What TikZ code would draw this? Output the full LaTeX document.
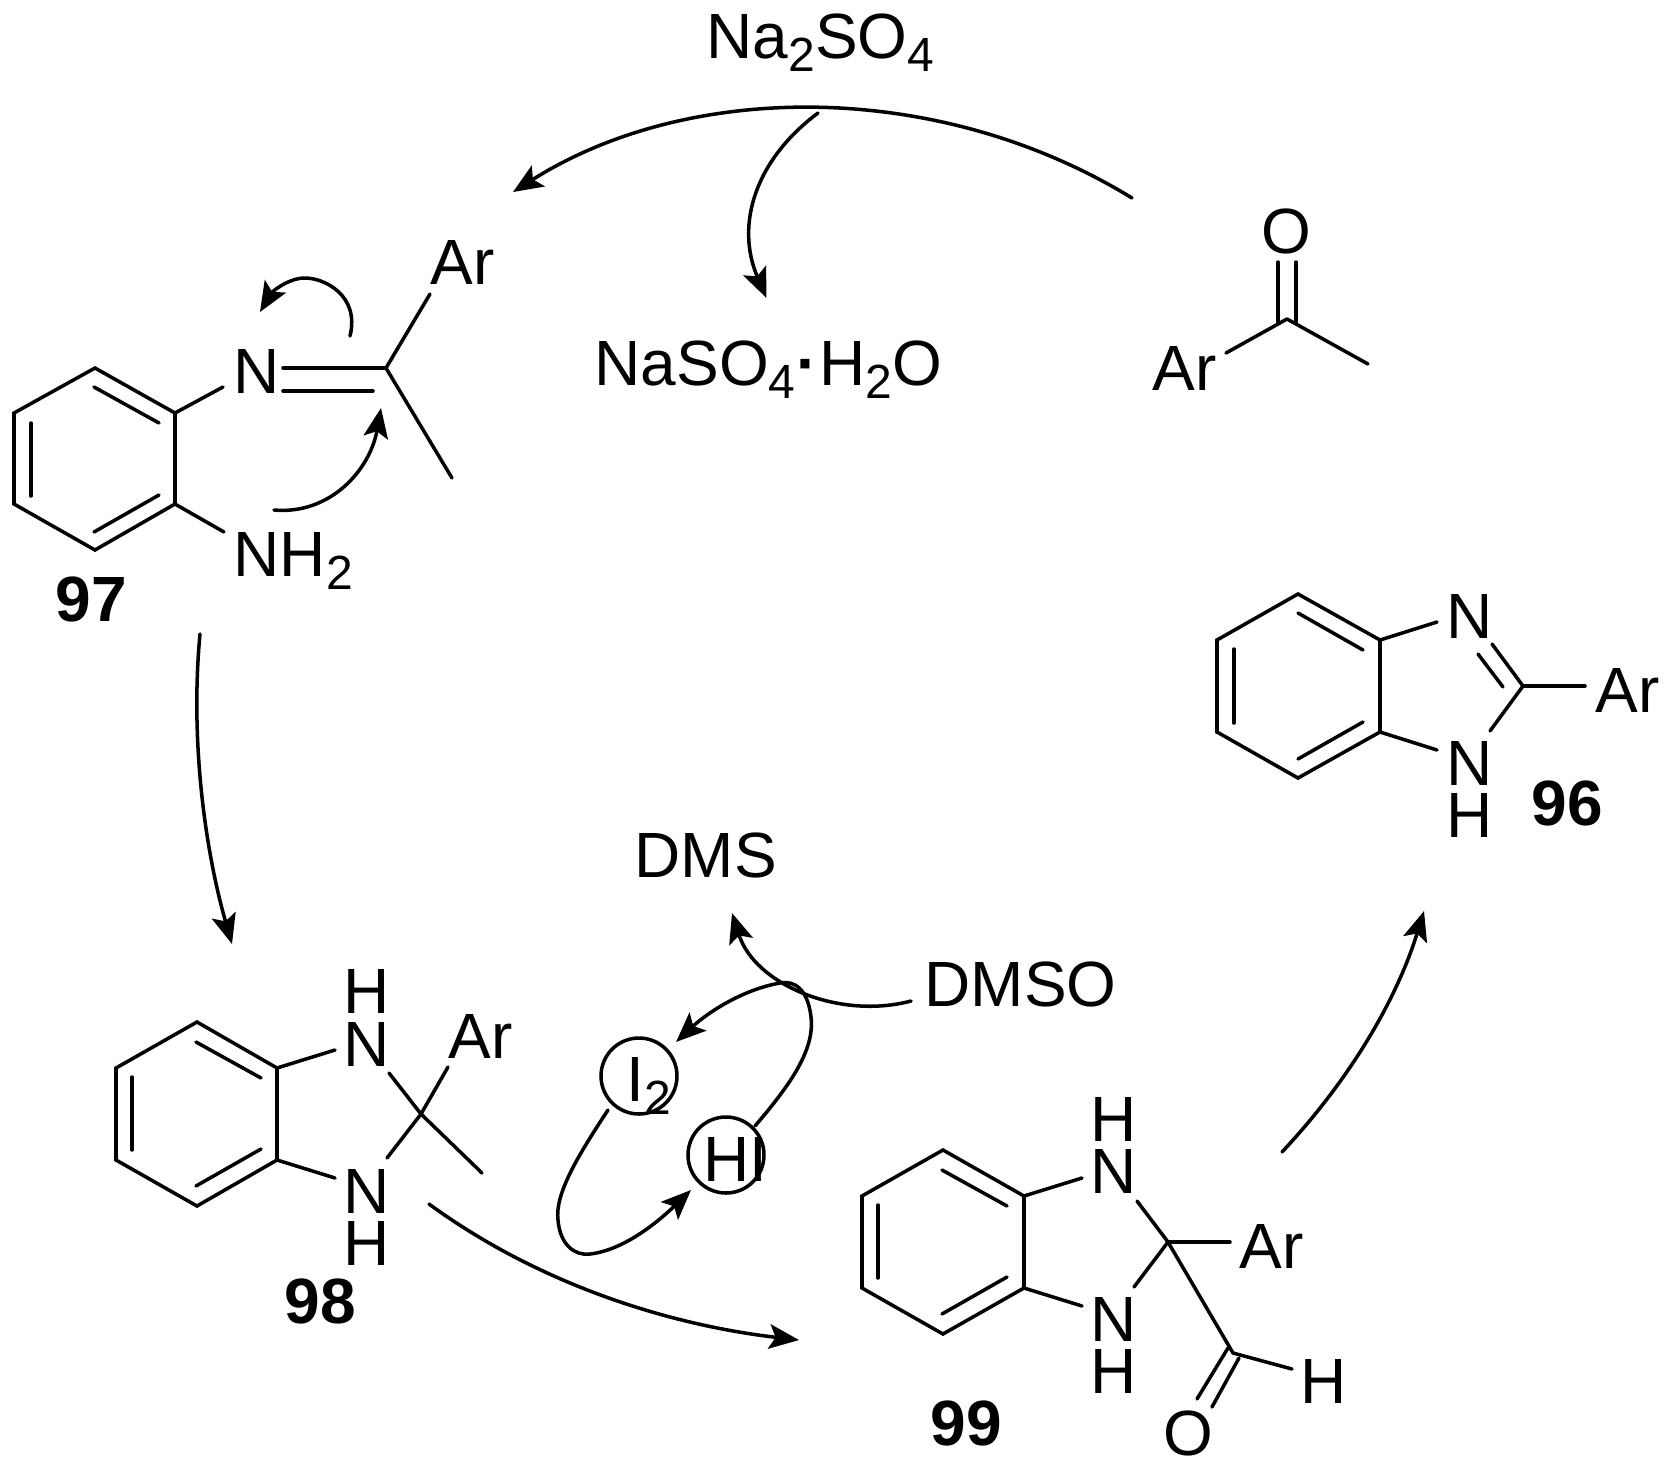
\documentclass[tikz,border=0pt]{standalone}
\usepackage{fontspec}
\setmainfont{Liberation Sans}
\usetikzlibrary{arrows.meta}
\newcommand{\subs}[1]{\raisebox{-0.21em}{\scalebox{0.75}{#1}}}
\tikzset{
	atom/.style={anchor=base west, inner sep=0pt, font=\fontsize{18.2}{20}\selectfont},
	cpd/.style={atom, font=\fontsize{18.2}{20}\selectfont\bfseries},
	loopring/.style={draw, circle, inner sep=0pt, minimum size=0.76cm},
}
\begin{document}
\begin{tikzpicture}[x=1cm, y=-1cm, line width=1pt, line cap=round, line join=miter, >={Stealth[length=8.5pt, width=7pt, inset=1.8pt]}]
	\useasboundingbox (0,0) rectangle (16.7,14.68);
	%97
	\draw (0.14,4.13) -- ++(0.81,-0.45) -- ++(0.80,0.45) -- ++(0,0.91) -- ++(-0.80,0.46) -- ++(-0.81,-0.46) -- cycle;
	\draw (0.94,3.87) -- ++(0.65,0.36);
	\draw (0.31,4.23) -- ++(0,0.73);
	\draw (0.94,5.32) -- ++(0.65,-0.37);
	\draw (1.75,4.13) -- ++(0.48,-0.26);
	\draw (1.75,5.04) -- ++(0.49,0.28);
	\draw (2.83,3.68) -- ++(1.03,0);
	\draw (2.83,3.91) -- ++(0.90,0);
	\coordinate (c97) at (3.86,3.68);
	\draw (c97) -- ++(0.44,-0.74);
	\draw (c97) -- ++(0.66,1.10);
	\node[atom] (n97) at (2.32,3.93) {N};
	\node[atom] (nh97) at (2.32,5.76) {NH\subs{2}};
	\node[atom] (ar97) at (4.29,2.84) {Ar};
	\node[cpd] (l97) at (0.54,6.21) {97};
	%electron shifts
	\coordinate (s1) at (3.50,3.36);
	\coordinate (e1) at (2.60,3.12);
	\draw[->] (s1) .. controls (3.60,2.96) and (3.25,2.78) .. (3.05,2.78) .. controls (2.88,2.78) and (2.72,2.92) .. (e1);
	\coordinate (s2) at (2.74,5.10);
	\coordinate (e2) at (3.81,4.08);
	\draw[->] (s2) .. controls (3.30,5.15) and (3.70,4.70) .. (e2);
	%ketone
	\coordinate (c0) at (12.87,3.19);
	\draw (12.78,2.62) -- ++(0,0.60);
	\draw (12.96,2.62) -- ++(0,0.60);
	\draw (c0) -- (12.26,3.53);
	\draw (c0) -- (13.68,3.64);
	\node[atom] (o0) at (12.60,2.53) {O};
	\node[atom] (ar0) at (11.51,3.90) {Ar};
	%sulfate
	\node[atom] (na2) at (7.05,0.58) {Na\subs{2}SO\subs{4}};
	\node[atom] (nah) at (5.93,3.85) {NaSO\subs{4}\kern0.02em\textbf{·}\kern0.02em H\subs{2}O};
	\coordinate (ak) at (11.32,1.98);
	\coordinate (a97) at (5.13,1.92);
	\coordinate (br) at (8.18,1.13);
	\coordinate (brt) at (7.665,2.98);
	\draw[->] (ak) .. controls (9.40,0.80) and (6.90,0.80) .. (a97);
	\draw[->] (br) .. controls (7.55,1.60) and (7.35,2.25) .. (brt);
	%98
	\coordinate (a97b) at (2.00,6.34);
	\coordinate (a98) at (2.32,9.44);
	\draw[->] (a97b) .. controls (1.90,7.40) and (2.05,8.50) .. (a98);
	\draw (1.16,10.68) -- ++(0.81,-0.46) -- ++(0.80,0.46) -- ++(0,0.92) -- ++(-0.80,0.46) -- ++(-0.81,-0.46) -- cycle;
	\draw (1.96,10.42) -- ++(0.65,0.36);
	\draw (1.32,10.77) -- ++(0,0.73);
	\draw (1.96,11.86) -- ++(0.65,-0.37);
	\draw (2.77,10.68) -- ++(0.58,-0.18);
	\draw (2.77,11.60) -- ++(0.58,0.18);
	\coordinate (c98) at (4.21,11.14);
	\draw (c98) -- ++(-0.32,-0.41);
	\draw (c98) -- ++(-0.34,0.44);
	\draw (c98) -- ++(0.27,-0.47);
	\draw (c98) -- ++(0.61,0.59);
	\node[atom] (h98a) at (3.42,10.13) {H};
	\node[atom] (n98a) at (3.42,10.66) {N};
	\node[atom] (n98b) at (3.42,12.13) {N};
	\node[atom] (h98b) at (3.42,12.65) {H};
	\node[atom] (ar98) at (4.47,10.58) {Ar};
	\node[cpd] (l98) at (2.83,13.23) {98};
	%99
	\coordinate (a98b) at (4.29,12.04);
	\coordinate (a99) at (7.99,13.40);
	\draw[->] (a98b) .. controls (5.40,12.85) and (6.70,13.25) .. (a99);
	\draw (8.62,11.96) -- ++(0.81,-0.46) -- ++(0.81,0.46) -- ++(0,0.92) -- ++(-0.81,0.46) -- ++(-0.81,-0.46) -- cycle;
	\draw (9.42,11.70) -- ++(0.65,0.36);
	\draw (8.78,12.05) -- ++(0,0.73);
	\draw (9.42,13.14) -- ++(0.65,-0.37);
	\draw (10.24,11.96) -- ++(0.58,-0.18);
	\draw (10.24,12.88) -- ++(0.58,0.18);
	\coordinate (c99) at (11.68,12.42);
	\coordinate (cho) at (12.33,13.53);
	\draw (c99) -- ++(-0.31,-0.41);
	\draw (c99) -- ++(-0.34,0.45);
	\draw (c99) -- ++(0.62,0);
	\draw (c99) -- (cho);
	\draw (cho) -- ++(0.59,0.16);
	\draw (12.28,13.48) -- (11.97,13.99);
	\draw (12.39,13.58) -- (12.12,14.07);
	\node[atom] (h99a) at (10.89,11.41) {H};
	\node[atom] (n99a) at (10.89,11.93) {N};
	\node[atom] (n99b) at (10.89,13.41) {N};
	\node[atom] (h99b) at (10.89,13.93) {H};
	\node[atom] (ar99) at (12.38,12.68) {Ar};
	\node[atom] (h99c) at (12.99,14.03) {H};
	\node[atom] (o99) at (11.62,14.55) {O};
	\node[cpd] (l99) at (9.29,14.45) {99};
	%96
	\coordinate (a99b) at (12.82,11.52);
	\coordinate (a96) at (14.24,9.11);
	\draw[->] (a99b) .. controls (13.45,10.85) and (13.95,10.05) .. (a96);
	\draw (12.17,6.40) -- ++(0.81,-0.46) -- ++(0.82,0.46) -- ++(0,0.92) -- ++(-0.82,0.46) -- ++(-0.81,-0.46) -- cycle;
	\draw (12.98,6.13) -- ++(0.65,0.37);
	\draw (12.34,6.49) -- ++(0,0.74);
	\draw (12.98,7.59) -- ++(0.65,-0.37);
	\draw (13.80,6.40) -- ++(0.57,-0.18);
	\draw (13.80,7.32) -- ++(0.57,0.18);
	\coordinate (c96) at (15.23,6.86);
	\draw (c96) -- (14.92,6.44);
	\draw (15.03,6.87) -- (14.78,6.54);
	\draw (c96) -- (14.90,7.31);
	\draw (c96) -- ++(0.62,0);
	\node[atom] (n96a) at (14.45,6.38) {N};
	\node[atom] (n96b) at (14.45,7.85) {N};
	\node[atom] (h96) at (14.45,8.37) {H};
	\node[atom] (ar96) at (15.94,7.12) {Ar};
	\node[cpd] (l96) at (15.30,8.25) {96};
	%iodine cycle
	\node[atom] (dms) at (6.33,8.77) {DMS};
	\node[atom] (dmso) at (9.23,10.06) {DMSO};
	\node[loopring] (ci2) at (6.39,10.76) {};
	\node[loopring] (chi) at (7.26,11.55) {};
	\node[atom] (i2) at (6.25,11.01) {I\subs{2}};
	\node[atom] (hi) at (7.02,11.81) {HI};
	\coordinate (so) at (9.11,10.01);
	\coordinate (sd) at (7.32,9.13);
	\draw[->] (so) .. controls (8.40,10.20) and (7.55,9.85) .. (sd);
	\coordinate (hu) at (7.55,11.26);
	\coordinate (iu) at (6.76,10.42);
	\draw[->] (hu) .. controls (7.90,10.85) and (8.15,10.50) .. (8.11,10.17) .. controls (8.08,9.90) and (7.95,9.80) .. (7.80,9.83) .. controls (7.40,9.90) and (7.05,10.15) .. (iu);
	\coordinate (il) at (6.08,11.10);
	\coordinate (hl) at (6.91,11.90);
	\draw[->] (il) .. controls (5.75,11.60) and (5.55,11.95) .. (5.58,12.20) .. controls (5.60,12.45) and (5.75,12.56) .. (5.90,12.54) .. controls (6.25,12.50) and (6.60,12.20) .. (hl);
\end{tikzpicture}
\end{document}
